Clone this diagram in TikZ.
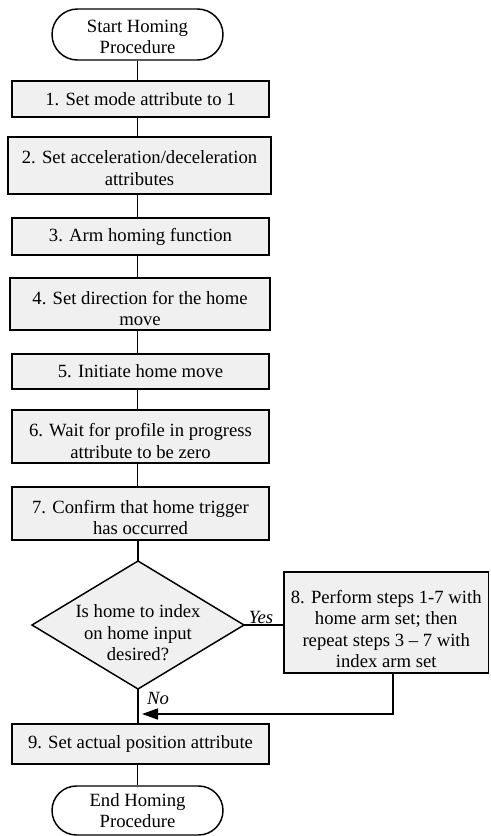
\documentclass[tikz,border=0pt]{standalone}
\usepackage{fontspec}
\setmainfont{Liberation Serif}
\usetikzlibrary{shapes.misc,arrows.meta}
\definecolor{boxgray}{RGB}{240,240,240}
\newcommand{\twx}[2]{\raisebox{-#1}[\height][\depth]{\begin{tabular}{@{}c@{}}#2\end{tabular}}}
\begin{document}
\begin{tikzpicture}[x=0.75pt,y=-0.75pt,
  every node/.style={font=\fontsize{14}{16.2}\selectfont},
  stepbox/.style={draw, fill=boxgray, line width=1.1pt, align=center, inner sep=0pt},
  term/.style={draw, fill=white, rounded rectangle, line width=1.1pt, align=center, inner sep=0pt,
    minimum width=171*0.75pt},
  conn/.style={line width=1.1pt},
  lbl/.style={font=\fontsize{14}{16}\selectfont\itshape, inner sep=0pt}
]
\useasboundingbox (0,0) rectangle (490,836);

\node[term, minimum height=51*0.75pt] (start) at (137.5,34.5) {\twx{3pt}{Start Homing\\Procedure}};
\node[stepbox, minimum width=257*0.75pt, minimum height=36*0.75pt] (b1) at (140.5,99) {1. Set mode attribute to 1};
\node[stepbox, minimum width=263*0.75pt, minimum height=57*0.75pt] (b2) at (139.5,165.5) {\twx{3.4pt}{2. Set acceleration/deceleration\\attributes}};
\node[stepbox, minimum width=257*0.75pt, minimum height=37*0.75pt] (b3) at (140.5,236.5) {3. Arm homing function};
\node[stepbox, minimum width=260*0.75pt, minimum height=52*0.75pt] (b4) at (140,304) {\twx{4.9pt}{4. Set direction for the home\\move}};
\node[stepbox, minimum width=257*0.75pt, minimum height=35*0.75pt] (b5) at (140.5,371.5) {5. Initiate home move};
\node[stepbox, minimum width=257*0.75pt, minimum height=53*0.75pt] (b6) at (140.5,436.5) {\twx{5.1pt}{6. Wait for profile in progress\\attribute to be zero}};
\node[stepbox, minimum width=257*0.75pt, minimum height=53*0.75pt] (b7) at (140.5,513.5) {\twx{4.5pt}{7. Confirm that home trigger\\has occurred}};

\coordinate (dN) at (138,561);
\coordinate (dE) at (244,625);
\coordinate (dS) at (138,689);
\coordinate (dW) at (32,625);
\draw[line width=1.1pt, fill=boxgray, line join=miter] (dN) -- (dE) -- (dS) -- (dW) -- cycle;
\node[inner sep=0pt] (dec) at (138,625) {\twx{7.5pt}{Is home to index\\on home input\\desired?}};

\node[stepbox, minimum width=204.5*0.75pt, minimum height=101*0.75pt] (b8) at (386.25,622.5) {\twx{6.5pt}{8. Perform steps 1-7 with\\home arm set; then\\repeat steps 3 -- 7 with\\index arm set}};
\node[stepbox, minimum width=257*0.75pt, minimum height=40*0.75pt] (b9) at (140.5,744) {9. Set actual position attribute};
\node[term, minimum height=49*0.75pt] (end) at (137.5,810.5) {\twx{1.5pt}{End Homing\\Procedure}};

\coordinate (c8) at (393,714);
\coordinate (m) at (142,714);

\draw[conn] (start.south) -- (start.south |- b1.north);
\draw[conn] (b1.south -| start.south) -- (start.south |- b2.north);
\draw[conn] (b2.south -| start.south) -- (start.south |- b3.north);
\draw[conn] (b3.south -| start.south) -- (start.south |- b4.north);
\draw[conn] (b4.south -| start.south) -- (start.south |- b5.north);
\draw[conn] (b5.south -| start.south) -- (start.south |- b6.north);
\draw[conn] (b6.south -| start.south) -- (start.south |- b7.north);
\draw[conn] (b7.south -| dN) -- (dN);
\draw[conn] (dE) -- (dE -| b8.west);
\draw[conn] (dS) -- (dS |- b9.north);
\draw[conn] (b9.south -| end.north) -- (end.north);
\draw[conn, -{Triangle[length=16*0.75pt, width=11*0.75pt]}] (c8 |- b8.south) -- (c8) -- (m);

\node[lbl] (yes) at (261,617) {Yes};
\node[lbl] (no) at (158,698) {No};
\end{tikzpicture}
\end{document}
